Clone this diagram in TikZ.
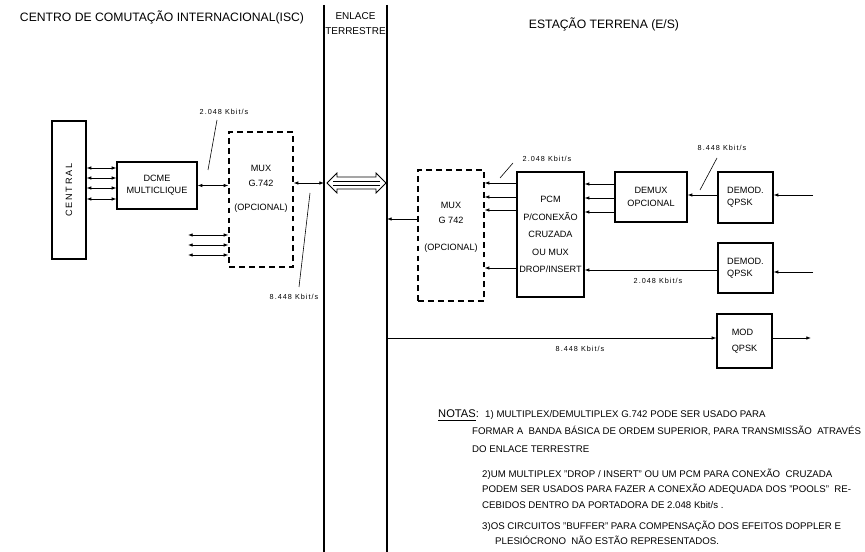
\documentclass[tikz,border=0pt]{standalone}
\usepackage{fontspec}
\setmainfont{Liberation Sans}
\usetikzlibrary{arrows.meta, positioning, calc}

\begin{document}
\begin{tikzpicture}[
    x=0.3mm, y=-0.3mm,
    >={Latex[length=4pt, width=3pt]},
    blk/.style 2 args={draw, line width=1pt, minimum width=#1, minimum height=#2, inner sep=0pt, align=center, font=\fontsize{7.8}{10.5}\selectfont},
    dblk/.style 2 args={blk={#1}{#2}, dash pattern=on 5pt off 3.5pt},
    sig/.style={->, line width=0.7pt},
    dbl/.style={<->, line width=0.7pt},
    lead/.style={line width=0.5pt},
    rate/.style={inner sep=0pt, font=\fontsize{6.2}{7}\selectfont\addfontfeature{LetterSpace=14}},
    ttl/.style={inner sep=0pt, font=\fontsize{10.4}{12}\selectfont},
    note/.style={anchor=base west, inner sep=0pt, font=\fontsize{8.25}{10}\selectfont},
    border/.style={line width=1.6pt},
]
    \useasboundingbox (0,0) rectangle (865,552);

    % titulos
    \node[ttl] (isc) at (162,17) {CENTRO DE COMUTAÇÃO INTERNACIONAL(ISC)};
    \node[ttl, align=center, font=\fontsize{8.5}{12.8}\selectfont] (enl) at (355.5,24) {ENLACE\\TERRESTRE};
    \node[ttl] (es) at (604,24) {ESTAÇÃO TERRENA (E/S)};

    % enlace terrestre
    \coordinate (ea1) at (324,5);
    \coordinate (ea2) at (324,552);
    \coordinate (eb1) at (387,5);
    \coordinate (eb2) at (387,552);
    \draw[border] (ea1) -- (ea2);
    \draw[border] (eb1) -- (eb2);
    \draw[line width=0.7pt] (327,183) -- (337,173) -- (337,177) -- (376,177) -- (376,173) -- (386,183)
        -- (376,193) -- (376,189) -- (337,189) -- (337,193) -- cycle;
    \foreach \y in {181,185} \draw[line width=0.6pt] (333,\y) -- (380,\y);

    % lado ISC
    \node[blk={10.2mm}{41.4mm}] (central) at (69,190) {\rotatebox{90}{\addfontfeature{LetterSpace=20}CENTRAL}};
    \node[blk={24mm}{14.1mm}] (dcme) at (157,185.5) {DCME\\MULTICLIQUE};
    \node[dblk={19.2mm}{40.5mm}] (muxL) at (261,199.5) {};
    \node[align=center, font=\fontsize{7.8}{12.8}\selectfont] (muxLtxt) at (261,189) {MUX\\G.742\\[8pt](OPCIONAL)};

    \foreach \y in {168,178,188,199} \draw[dbl] (central.east |- 0,\y) -- (dcme.west |- 0,\y);
    \draw[dbl] (dcme.east) -- (muxL.west |- dcme.east);
    \foreach \y [count=\i] in {235,245,255} {
        \coordinate (ext\i) at (188,\y);
        \draw[dbl] (ext\i) -- (muxL.west |- ext\i);
    }
    \draw[dbl] (muxL.east |- 0,183) -- (ea1 |- 0,183);

    \node[rate] (r1) at (224,112) {2.048 Kbit/s};
    \draw[lead] (208,170) -- (217,120);
    \node[rate] (r6) at (294,297) {8.448 Kbit/s};
    \draw[lead] (310,193) -- (299,287);

    % lado E/S
    \node[dblk={19.8mm}{39.3mm}] (muxR) at (451,235.5) {};
    \node[align=center, font=\fontsize{7.8}{12.8}\selectfont] (muxRtxt) at (451,227) {MUX\\G 742\\[10pt](OPCIONAL)};
    \node[blk={20.1mm}{37.5mm}, font=\fontsize{7.8}{14.9}\selectfont] (pcm) at (550.5,234.5) {PCM\\P/CONEXÃO\\CRUZADA\\OU MUX\\DROP/INSERT};
    \node[blk={21.6mm}{15mm}] (demux) at (651,197) {DEMUX\\OPCIONAL};
    \node[blk={16.5mm}{15.3mm}, align=left] (demodA) at (745.5,197.5) {DEMOD.\\QPSK};
    \node[blk={16.5mm}{15mm}, align=left] (demodB) at (745.5,268) {DEMOD.\\QPSK};
    \node[blk={16.5mm}{16.2mm}, align=left, font=\fontsize{7.8}{13.6}\selectfont] (mod) at (744.5,341) {MOD\\QPSK};

    \draw[sig] (muxR.west |- 0,219) -- (eb1 |- 0,219);
    \foreach \y in {183,197,210,268} \draw[sig] (pcm.west |- 0,\y) -- (muxR.east |- 0,\y);
    \foreach \y in {184,198,212} \draw[sig] (demux.west |- 0,\y) -- (pcm.east |- 0,\y);
    \draw[sig] (demodA.west |- 0,195) -- (demux.east |- 0,195);
    \coordinate (inA) at (813,195);
    \draw[sig] (inA) -- (demodA.east |- inA);
    \coordinate (inB) at (813,272);
    \draw[sig] (inB) -- (demodB.east |- inB);
    \draw[sig] (demodB.west |- 0,270) -- (pcm.east |- 0,270);
    \draw[sig] (eb1 |- 0,338) -- (mod.west |- 0,338);
    \coordinate (outM) at (811,338);
    \draw[sig] (mod.east |- outM) -- (outM);

    \node[rate] (r2) at (547,159) {2.048 Kbit/s};
    \draw[lead] (500,178) -- (513,163);
    \node[rate] (r3) at (722,148) {8.448 Kbit/s};
    \draw[lead] (700,190) -- (717,158);
    \node[rate] (r4) at (658,281) {2.048 Kbit/s};
    \node[rate] (r5) at (580,349) {8.448 Kbit/s};

    % notas
    \node[note, font=\fontsize{9.5}{10}\selectfont] (notas) at (438,418) {\underline{NOTAS}:};
    \node[note] (n1a) at (485,418) {1) MULTIPLEX/DEMULTIPLEX G.742 PODE SER USADO PARA};
    \node[note] (n1b) at (472,435) {FORMAR A \ BANDA BÁSICA DE ORDEM SUPERIOR, PARA TRANSMISSÃO \ ATRAVÉS};
    \node[note] (n1c) at (472,453) {DO ENLACE TERRESTRE};
    \node[note] (n2a) at (482,478) {2)UM MULTIPLEX "DROP / INSERT" OU UM PCM PARA CONEXÃO \ CRUZADA};
    \node[note] (n2b) at (482,493) {PODEM SER USADOS PARA FAZER A CONEXÃO ADEQUADA DOS "POOLS" \ RE-};
    \node[note] (n2c) at (482,509) {CEBIDOS DENTRO DA PORTADORA DE 2.048 Kbit/s .};
    \node[note] (n3a) at (482,530) {3)OS CIRCUITOS "BUFFER" PARA COMPENSAÇÃO DOS EFEITOS DOPPLER E};
    \node[note] (n3b) at (495,545) {PLESIÓCRONO \ NÃO ESTÃO REPRESENTADOS.};
\end{tikzpicture}
\end{document}
